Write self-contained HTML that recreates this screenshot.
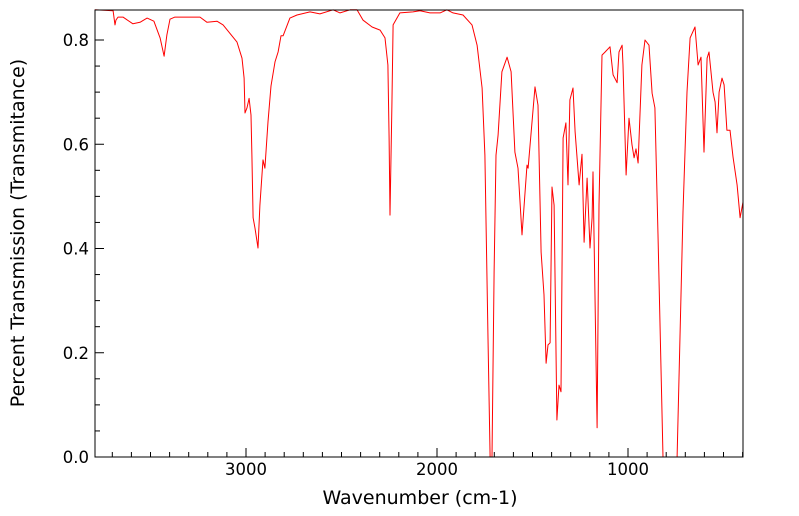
<!DOCTYPE html>
<html><head><meta charset="utf-8">
<style>
body{margin:0;background:#fff;}
svg{display:block;font-family:"DejaVu Sans","Liberation Sans",sans-serif;}
</style></head>
<body>
<svg id="chart" width="799" height="516"></svg>
<script>
const wavenumbers=[3791,3696,3686,3681,3670,3644,3592,3555,3518,3482,3450,3429,3414,3398,3372,3241,3204,3152,3120,3047,3021,3010,3005,2995,2984,2974,2969,2963,2953,2937,2927,2911,2901,2885,2869,2848,2832,2817,2806,2770,2733,2665,2613,2544,2508,2455,2419,2387,2340,2298,2272,2257,2251,2246,2236,2230,2194,2126,2089,2037,1984,1948,1916,1864,1817,1790,1764,1749,1733,1722,1712,1701,1691,1680,1660,1633,1612,1592,1576,1555,1529,1523,1487,1471,1455,1440,1429,1419,1408,1398,1387,1372,1361,1351,1340,1325,1314,1304,1288,1277,1256,1241,1230,1214,1199,1188,1183,1162,1152,1136,1120,1094,1078,1057,1047,1031,1026,1010,995,979,968,958,947,927,911,890,874,859,843,817,743,712,691,675,649,633,618,602,586,576,555,544,534,523,508,497,482,466,450,429,413,398];
const transmittance=[0.858,0.856,0.829,0.838,0.844,0.844,0.831,0.834,0.842,0.836,0.804,0.769,0.810,0.840,0.844,0.844,0.834,0.836,0.829,0.796,0.765,0.727,0.660,0.670,0.688,0.656,0.579,0.459,0.439,0.401,0.483,0.570,0.554,0.643,0.712,0.758,0.777,0.808,0.808,0.842,0.848,0.854,0.850,0.858,0.852,0.858,0.858,0.838,0.825,0.819,0.804,0.752,0.612,0.464,0.675,0.829,0.852,0.854,0.856,0.852,0.852,0.858,0.852,0.848,0.829,0.790,0.708,0.579,0.228,0,0,0.355,0.579,0.618,0.739,0.767,0.739,0.585,0.554,0.426,0.560,0.554,0.710,0.675,0.393,0.311,0.180,0.215,0.219,0.518,0.483,0.071,0.138,0.125,0.612,0.641,0.522,0.685,0.708,0.624,0.522,0.581,0.412,0.535,0.401,0.459,0.547,0.056,0.483,0.771,0.777,0.787,0.733,0.718,0.777,0.790,0.752,0.541,0.650,0.599,0.574,0.591,0.564,0.752,0.800,0.790,0.698,0.670,0.426,0,0,0.470,0.700,0.804,0.825,0.752,0.767,0.585,0.765,0.777,0.700,0.681,0.622,0.700,0.727,0.714,0.627,0.627,0.576,0.522,0.459,0.489];
const xTicks=[3000,2000,1000];
const yTicks=[0.0,0.2,0.4,0.6,0.8];
const yTickLabels=["0.0","0.2","0.4","0.6","0.8"];

const svg=document.getElementById('chart');
const NS='http://www.w3.org/2000/svg';
const L=95,R=743,T=10,B=457;
const x=w=>246+(3000-w)*0.191;
const y=v=>457-v*521.25;
function mk(tag,attrs){const e=document.createElementNS(NS,tag);for(const k in attrs)e.setAttribute(k,attrs[k]);svg.appendChild(e);return e;}

for(let w=3700;w>=400;w-=100){
  const px=x(w);
  const t=mk('line',{x1:px,x2:px,y1:B,y2:B-(w%1000===0?9:5),stroke:'#000','stroke-width':1});
  
  
}
for(let v=0;v<=0.85;v+=0.05){
  const py=y(v);
  const major=Math.abs(v*10-Math.round(v*10))<1e-6&&Math.round(v*10)%2===0;
  const t=mk('line',{x1:L,x2:L+(major?9:5),y1:py,y2:py,stroke:'#000','stroke-width':1});
  
  
}
xTicks.forEach(w=>{
  const t=mk('text',{x:x(w),y:475,'text-anchor':'middle','font-size':16.5,fill:'#000'});
  t.textContent=w;
  
  
});
yTicks.forEach((v,i)=>{
  const t=mk('text',{x:89,y:y(v)+6,'text-anchor':'end','font-size':16.5,fill:'#000'});
  t.textContent=yTickLabels[i];
  
  
});
const pts=wavenumbers.map((w,i)=>x(w).toFixed(1)+','+y(transmittance[i]).toFixed(1)).join(' ');
const line=mk('polyline',{points:pts,fill:'none',stroke:'#ff0000','stroke-width':1,'stroke-linejoin':'round'});


const frame=mk('rect',{x:L,y:T,width:R-L,height:B-T,fill:'none',stroke:'#000','stroke-width':1});


const xt=mk('text',{x:420,y:504,'text-anchor':'middle','font-size':19,fill:'#000'});
xt.textContent='Wavenumber (cm-1)';


const yt=mk('text',{x:0,y:0,'text-anchor':'middle','font-size':19,fill:'#000',transform:'translate(24,233) rotate(-90)'});
yt.textContent='Percent Transmission (Transmitance)';


</script>
</body></html>
